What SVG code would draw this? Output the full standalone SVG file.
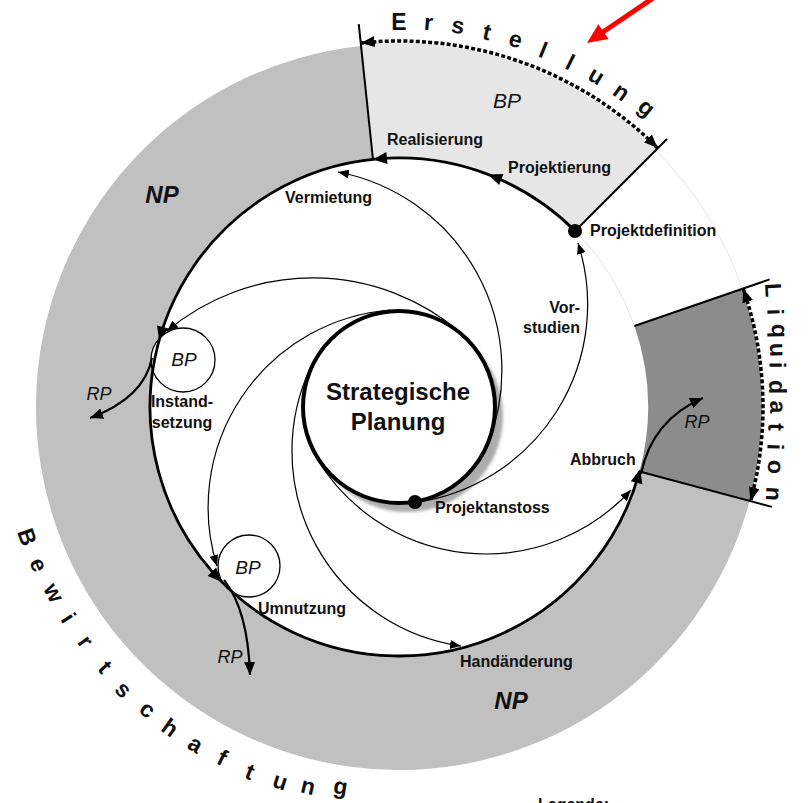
<svg xmlns="http://www.w3.org/2000/svg" width="809" height="803" viewBox="0 0 809 803">
<defs>
<style>
.lbl{font-family:"Liberation Sans",Arial,sans-serif;font-weight:bold;font-size:16px;fill:#111}
.big{font-family:"Liberation Sans",Arial,sans-serif;font-weight:bold;font-size:24px;fill:#111}
.it{font-family:"Liberation Sans",Arial,sans-serif;font-style:italic;fill:#111;text-anchor:middle}
.arc{font-family:"Liberation Sans",Arial,sans-serif;font-weight:bold;font-size:23px;fill:#111;text-anchor:middle}
.thin{fill:none;stroke:#000;stroke-width:1.2;marker-end:url(#tarr)}
.rp{fill:none;stroke:#000;stroke-width:2.2;marker-end:url(#rarr)}
.dash{fill:none;stroke:#000;stroke-width:3.5;stroke-dasharray:4 2.2;marker-start:url(#darr);marker-end:url(#darr)}
.rad{stroke:#000;stroke-width:2;fill:none}
.faint{fill:none;stroke:#e6e6e6;stroke-width:1}
</style>
<marker id="tarr" viewBox="0 0 11 9" refX="11" refY="4.5" markerWidth="11" markerHeight="9" markerUnits="userSpaceOnUse" orient="auto"><path d="M0,0 L11,4.5 L0,9 Z" fill="#000"/></marker>
<marker id="rarr" viewBox="0 0 13 11" refX="13" refY="5.5" markerWidth="13" markerHeight="11" markerUnits="userSpaceOnUse" orient="auto"><path d="M0,0 L13,5.5 L0,11 Z" fill="#000"/></marker>
<marker id="darr" viewBox="0 0 14 11" refX="14" refY="5.5" markerWidth="14" markerHeight="11" markerUnits="userSpaceOnUse" orient="auto-start-reverse"><path d="M0,0 L14,5.5 L0,11 Z" fill="#000" stroke="none"/></marker>
<path id="ah" d="M0,0 L-14,-6 L-14,6 Z" fill="#000"/>
<filter id="blur" x="-20%" y="-20%" width="140%" height="140%"><feGaussianBlur stdDeviation="1.6"/></filter>
</defs>
<rect width="809" height="803" fill="#fff"/>

<g id="ring-np"><path d="M361.06,45.99 A363,363 0 1 0 749.63,500.95 L639.52,471.45 A249,249 0 1 1 372.97,159.36 Z" fill="#c0c0c0"/></g>
<g id="ring-erstellung"><path d="M575.07,230.93 L656.39,149.61 A364,364 0 0 0 360.95,44.99 L372.97,159.36 A249,249 0 0 1 575.07,230.93 Z" fill="#e6e6e6"/></g>
<g id="ring-liquidation"><path d="M634.43,325.93 L742.22,288.82 A363,363 0 0 1 749.63,500.95 L639.52,471.45 A249,249 0 0 0 634.43,325.93 Z" fill="#8c8c8c"/></g>

<g id="phase-bounds">
<path class="faint" d="M634.43,325.93 A249,249 0 0 0 575.07,230.93"/>
<path class="faint" d="M742.22,288.82 A363,363 0 0 0 655.68,150.32"/>
<line class="rad" x1="372.97" y1="159.36" x2="358.76" y2="24.11"/>
<line class="rad" x1="575.07" y1="230.93" x2="667" y2="139"/>
<line class="rad" x1="634.43" y1="325.93" x2="769.64" y2="279.38"/>
<line class="rad" x1="639.52" y1="471.45" x2="771.85" y2="506.9"/>
<path class="dash" d="M657.8,148.2 A366,366 0 0 0 360.74,43.0"/>
<path class="dash" d="M743.17,288.5 A364,364 0 0 1 750.6,501.2"/>
</g>

<g id="node-bp-instandsetzung"><circle cx="183" cy="360" r="32" fill="#fff" stroke="#000" stroke-width="1.3"/><text class="it" x="184" y="366" font-size="19">BP</text></g>
<g id="node-bp-umnutzung"><circle cx="249" cy="566" r="31" fill="#fff" stroke="#000" stroke-width="1.3"/><text class="it" x="248" y="574" font-size="19">BP</text></g>

<circle cx="407" cy="416" r="96" fill="#acacac" filter="url(#blur)"/>

<g id="connectors">
<path class="thin" d="M488,444 A202,202 0 0 0 338,172"/>
<path class="thin" d="M461,333 A227,227 0 0 0 167,331"/>
<path class="thin" d="M390,310 A198,198 0 0 0 217,566"/>
<path class="thin" d="M311,366.5 A197,197 0 0 0 461,646"/>
<path class="thin" d="M316,457 A197,197 0 0 0 631,490"/>
<path class="thin" d="M415,502.5 A200,200 0 0 0 578,243"/>
<path d="M575.07,230.93 A249,249 0 1 0 639.52,471.45" fill="none" stroke="#000" stroke-width="2.8"/>
<use href="#ah" transform="translate(488.2,174.5) rotate(-159)"/>
<use href="#ah" transform="translate(373,159.4) rotate(174)"/>
<use href="#ah" transform="translate(159.1,340.5) rotate(105.5)"/>
<use href="#ah" transform="translate(221.7,581.8) rotate(45.4)"/>
<use href="#ah" transform="translate(640.1,469.3) rotate(-75.5)"/>
<path class="rp" d="M152,358 Q144,398 90,418"/>
<path class="rp" d="M224,580 Q248,610 250,675"/>
<path class="rp" d="M641,474 Q652,420 703,398"/>
</g>

<g id="node-strategische-planung">
<circle cx="399" cy="407" r="96" fill="#fff" stroke="#000" stroke-width="4"/>
<text class="big" x="398" y="400" text-anchor="middle">Strategische</text>
<text class="big" x="398" y="430" text-anchor="middle">Planung</text>
</g>
<g id="node-projektanstoss"><circle cx="415" cy="502" r="7" fill="#000"/><text class="lbl" x="435" y="513">Projektanstoss</text></g>
<g id="node-projektdefinition"><circle cx="575" cy="231" r="7" fill="#000"/><text class="lbl" x="590" y="236">Projektdefinition</text></g>

<g id="labels">
<text class="lbl" x="387" y="145">Realisierung</text>
<text class="lbl" x="508" y="172.5">Projektierung</text>
<text class="lbl" x="285" y="203">Vermietung</text>
<text class="lbl" x="580" y="313" text-anchor="end">Vor-</text>
<text class="lbl" x="580" y="333" text-anchor="end">studien</text>
<text class="lbl" x="182" y="407" text-anchor="middle">Instand-</text>
<text class="lbl" x="182" y="428" text-anchor="middle">setzung</text>
<text class="lbl" x="258" y="614">Umnutzung</text>
<text class="lbl" x="460" y="667">Handänderung</text>
<text class="lbl" x="570" y="465">Abbruch</text>
<text class="it" x="507" y="108" font-size="21">BP</text>
<text class="it" x="162" y="203" font-size="24" font-weight="bold">NP</text>
<text class="it" x="511" y="709" font-size="24" font-weight="bold">NP</text>
<text class="it" x="99" y="400" font-size="18">RP</text>
<text class="it" x="230" y="663" font-size="18">RP</text>
<text class="it" x="697" y="428" font-size="18">RP</text>
<text class="lbl" x="538" y="810" font-size="18">Legende:</text>
</g>

<g id="title-erstellung">
<text class="arc" transform="translate(399,22) rotate(0)" dy="0.33em">E</text>
<text class="arc" transform="translate(428.5,23.1) rotate(4.4)" dy="0.3em">r</text>
<text class="arc" transform="translate(457.9,26.5) rotate(8.8)" dy="0.3em">s</text>
<text class="arc" transform="translate(486.9,32.2) rotate(13.2)" dy="0.33em">t</text>
<text class="arc" transform="translate(515.4,40) rotate(17.6)" dy="0.3em">e</text>
<text class="arc" transform="translate(543.2,50) rotate(22)" dy="0.35em">l</text>
<text class="arc" transform="translate(570.2,62.2) rotate(26.4)" dy="0.35em">l</text>
<text class="arc" transform="translate(596.1,76.3) rotate(30.8)" dy="0.3em">u</text>
<text class="arc" transform="translate(620.9,92.4) rotate(35.2)" dy="0.3em">n</text>
<text class="arc" transform="translate(644.4,110.4) rotate(39.6)" dy="0.18em">g</text>
</g>

<g id="title-liquidation">
<text class="arc" transform="translate(773,290) rotate(87)" dy="0.33em">L</text>
<text class="arc" transform="translate(775,312) rotate(88)" dy="0.33em">i</text>
<text class="arc" transform="translate(776,331) rotate(88.5)" dy="0.18em">q</text>
<text class="arc" transform="translate(777,350) rotate(89)" dy="0.3em">u</text>
<text class="arc" transform="translate(777,365) rotate(89.5)" dy="0.33em">i</text>
<text class="arc" transform="translate(777,387) rotate(90)" dy="0.33em">d</text>
<text class="arc" transform="translate(777,407) rotate(90.5)" dy="0.3em">a</text>
<text class="arc" transform="translate(776,427) rotate(91)" dy="0.33em">t</text>
<text class="arc" transform="translate(775,447) rotate(91.5)" dy="0.33em">i</text>
<text class="arc" transform="translate(775,467) rotate(92)" dy="0.3em">o</text>
<text class="arc" transform="translate(773,494) rotate(93)" dy="0.3em">n</text>
</g>

<g id="title-bewirtschaftung">
<text class="arc" transform="translate(27,537) rotate(70.7)" dy="0.33em">B</text>
<text class="arc" transform="translate(38,565) rotate(66.4)" dy="0.3em">e</text>
<text class="arc" transform="translate(53,593) rotate(61.7)" dy="0.3em">w</text>
<text class="arc" transform="translate(68,618) rotate(57.5)" dy="0.33em">i</text>
<text class="arc" transform="translate(85,642) rotate(53.2)" dy="0.3em">r</text>
<text class="arc" transform="translate(105,667) rotate(48.5)" dy="0.33em">t</text>
<text class="arc" transform="translate(123,690) rotate(44.3)" dy="0.3em">s</text>
<text class="arc" transform="translate(147,710) rotate(39.8)" dy="0.3em">c</text>
<text class="arc" transform="translate(170,728) rotate(35.5)" dy="0.33em">h</text>
<text class="arc" transform="translate(195,745) rotate(31.1)" dy="0.3em">a</text>
<text class="arc" transform="translate(222,758) rotate(26.8)" dy="0.33em">f</text>
<text class="arc" transform="translate(250,772) rotate(22.2)" dy="0.33em">t</text>
<text class="arc" transform="translate(280,782) rotate(17.6)" dy="0.3em">u</text>
<text class="arc" transform="translate(308,787) rotate(13.5)" dy="0.3em">n</text>
<text class="arc" transform="translate(340,790) rotate(8.8)" dy="0.18em">g</text>
</g>

<g id="pointer">
<line x1="668" y1="-12" x2="603" y2="32" stroke="#ff0000" stroke-width="5"/>
<polygon points="587,43 608.6,39.1 598.4,24.3" fill="#ff0000"/>
</g>
</svg>
